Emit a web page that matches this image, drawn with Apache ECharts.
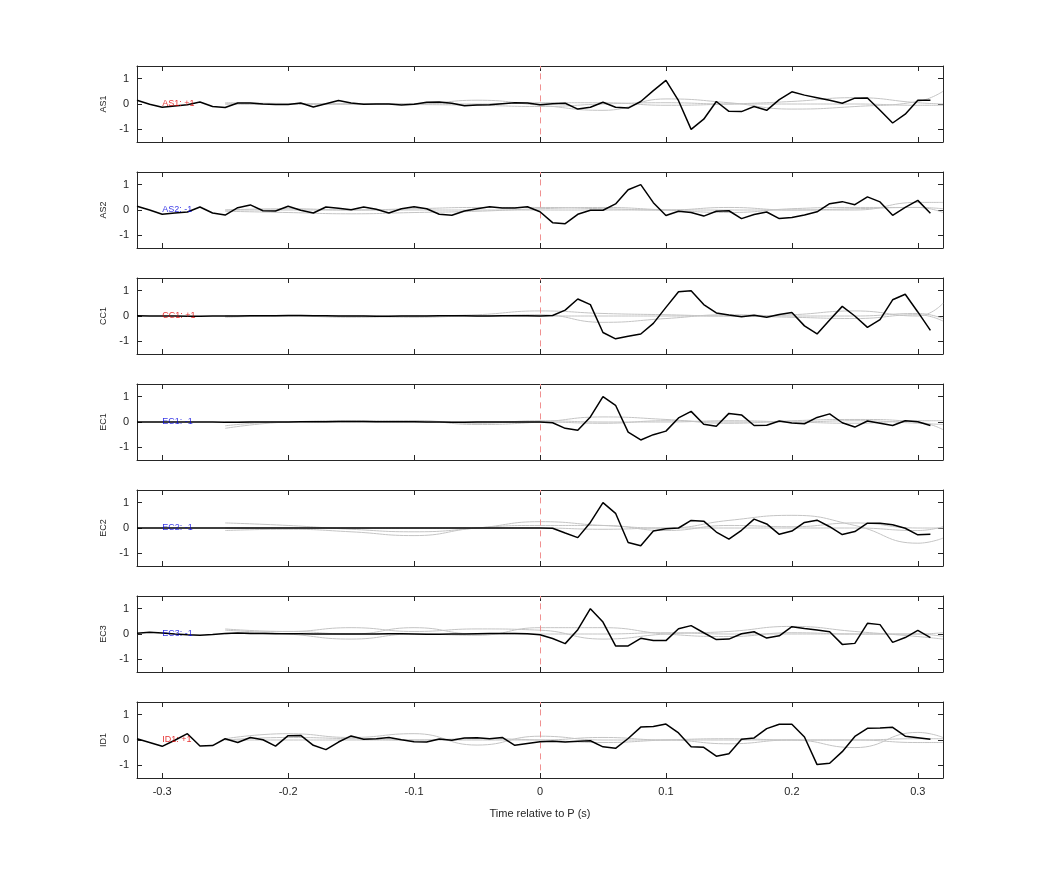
<!DOCTYPE html>
<html lang="en">
<head>
  <meta charset="UTF-8">
  <title>Stacked traces</title>
  <script src="https://cdn.jsdelivr.net/npm/echarts@6/dist/echarts.min.js"></script>
  <style>html,body{margin:0;background:#fff}</style>
</head>
<body>
  <div id="chart" style="width:1042px;height:875px"></div>
  <script>
    // station names, polarity label and colour
    const stations = ['AS1', 'AS2', 'CC1', 'EC1', 'EC2', 'EC3', 'ID1']
    const polarity = ['+1', '-1', '+1', '-1', '-1', '-1', '+1']
    const xTicks = [-0.3, -0.2, -0.1, 0, 0.1, 0.2, 0.3]
    const yTicks = [-1, 0, 1]

    // black trace times: -0.32 .. 0.31 every 0.01 s
    const times = []
    for (let i = -32; i <= 31; i++) times.push(i / 100)

    // black trace values, -0.32..0.00 then 0.01..0.31
    const AS1 = [0.15,-0.01,-0.13,-0.08,-0.03,0.08,-0.1,-0.14,0.04,0.04,0,-0.02,-0.02,0.04,-0.12,0.01,0.14,0.04,-0.01,0,0,-0.04,-0.01,0.07,0.08,0.03,-0.07,-0.04,-0.03,0.01,0.05,0.04,-0.03,
      0.01,0.03,-0.2,-0.13,0.07,-0.13,-0.16,0.1,0.53,0.93,0.13,-1.0,-0.6,0.1,-0.29,-0.3,-0.1,-0.25,0.17,0.48,0.35,0.25,0.15,0.03,0.23,0.24,-0.25,-0.75,-0.4,0.15,0.15]
    const AS2 = [0.15,0,-0.17,-0.12,-0.08,0.12,-0.12,-0.2,0.09,0.2,-0.03,-0.04,0.15,-0.01,-0.12,0.12,0.07,0.01,0.12,0.03,-0.12,0.05,0.13,0.05,-0.17,-0.21,-0.04,0.05,0.13,0.08,0.08,0.13,-0.07,
      -0.5,-0.54,-0.17,-0.01,-0.01,0.24,0.8,1.0,0.29,-0.22,-0.05,-0.1,-0.24,-0.05,-0.03,-0.34,-0.18,-0.08,-0.34,-0.3,-0.2,-0.07,0.25,0.33,0.21,0.52,0.32,-0.21,0.1,0.38,-0.13]
    const CC1 = [0.01,0,0,0,-0.01,-0.01,0,0,0,0.01,0.01,0.01,0.02,0.02,0.01,0.01,0,0,0,-0.01,-0.01,0,0,0,0.01,0.01,0.01,0,0,0.01,0.01,0.01,0,
      0.02,0.23,0.67,0.45,-0.65,-0.9,-0.8,-0.71,-0.29,0.34,0.96,1.0,0.45,0.12,0.04,-0.03,0.03,-0.05,0.06,0.14,-0.39,-0.71,-0.16,0.38,0,-0.45,-0.14,0.64,0.86,0.16,-0.57]
    const EC1 = [0,0,0,0,0,0,0,-0.01,-0.01,0,0,0,0,0.01,0.01,0.01,0.02,0.02,0.02,0.01,0.01,0.01,0.01,0,0,-0.01,-0.01,0,0,0,0,0,0,
      -0.03,-0.25,-0.33,0.2,1.0,0.66,-0.4,-0.71,-0.5,-0.36,0.16,0.42,-0.09,-0.17,0.34,0.28,-0.14,-0.13,0.04,-0.04,-0.07,0.18,0.32,-0.03,-0.2,0.04,-0.05,-0.14,0.05,0.01,-0.14]
    const EC2 = [0,0,0,0,0,0,0,0,0,0,0,0,0,0,0,0,0,0,0,0,0,0,0,0,0,0,0,0,0,0,0,0,0,
      -0.01,-0.2,-0.38,0.22,1.0,0.58,-0.57,-0.7,-0.12,-0.03,0,0.3,0.27,-0.16,-0.44,-0.09,0.35,0.16,-0.25,-0.12,0.22,0.31,0.05,-0.26,-0.14,0.19,0.19,0.13,-0.01,-0.27,-0.25]
    const EC3 = [0.03,0.07,0.04,0,-0.03,-0.05,-0.02,0.02,0.04,0.02,0.02,0.01,0.01,0.01,0,0,0,0,0,0,0.01,0.01,0,-0.01,-0.01,0,0,0.01,0.02,0.02,0.02,0.01,-0.03,
      -0.18,-0.38,0.17,1.0,0.47,-0.47,-0.47,-0.17,-0.26,-0.26,0.21,0.33,0.05,-0.22,-0.2,0.01,0.09,-0.16,-0.07,0.29,0.22,0.16,0.09,-0.41,-0.37,0.42,0.37,-0.33,-0.14,0.14,-0.14]
    const ID1 = [0.05,-0.1,-0.25,-0.01,0.25,-0.24,-0.22,0.05,-0.1,0.1,0.01,-0.24,0.17,0.18,-0.21,-0.38,-0.08,0.16,0.03,0.05,0.1,0.01,-0.07,-0.08,0.04,-0.01,0.08,0.09,0.05,0.1,-0.21,-0.14,-0.07,
      -0.05,-0.08,-0.05,-0.03,-0.27,-0.33,0.06,0.51,0.53,0.63,0.28,-0.27,-0.29,-0.64,-0.54,0.03,0.08,0.45,0.62,0.62,0.12,-0.97,-0.92,-0.46,0.14,0.46,0.47,0.5,0.15,0.09,0.03]
    const blackTraces = [AS1, AS2, CC1, EC1, EC2, EC3, ID1]

    // grey traces, sampled coarsely
    const greyTimes = [-0.25,-0.2,-0.15,-0.1,-0.05,0,0.05,0.1,0.15,0.2,0.25,0.3,0.32]
    const greyTraces = [
      [[0,0.02,0,0,0.15,-0.05,-0.25,0.2,0.05,-0.2,-0.1,0.1,0.5],
       [0.05,0.02,0,0.02,0,0.05,0.05,-0.05,0,0.1,0.25,0.05,0],
       [0,-0.02,0,-0.02,-0.05,-0.1,0,0.05,0,0,0,-0.05,-0.05]],
      [[0,0.05,0,0.05,0.1,0.1,0.05,0,0.1,0,0,0.3,0.3],
       [-0.05,-0.1,-0.15,-0.1,-0.05,0.05,0.1,0,-0.1,0.05,0.1,0.1,-0.1],
       [0,0,0,0,0,0,0,0,0,0,0.05,0.1,0.05]],
      [[-0.05,0,-0.05,0,0.05,0.2,0.1,0.05,0,0.05,0.2,0,0.5],
       [0,0,0,0,0,0.05,-0.25,-0.1,0.05,0,0,0.1,-0.1],
       [0,0,0,-0.05,0,0,0,0,0,-0.05,-0.1,0.05,-0.2]],
      [[-0.25,0,0.05,0.05,-0.1,0,0.2,0.1,-0.05,0.05,0.1,0,-0.3],
       [-0.15,0,0,0.05,-0.05,0.05,0,0,0.05,0,-0.05,0.05,0.05],
       [0,0,0,0,0,0,-0.05,0.05,0,0,0.05,-0.05,-0.1]],
      [[0.2,0.1,-0.05,-0.15,0,0.25,0.1,0,0.3,0.5,0.1,-0.6,-0.4],
       [-0.1,-0.05,-0.15,-0.3,0,0.1,0.1,-0.1,0.1,0.05,0.2,0,0],
       [0,0,0,0,0,0,-0.05,0,0,0,0,-0.1,0.05]],
      [[0.2,0.1,0.25,0.1,0.2,0.15,-0.2,0,0.1,0.3,0.1,-0.1,-0.2],
       [0.15,0,-0.2,0,-0.05,0.25,0.25,0,-0.1,0.05,0,0,-0.1],
       [0,0.1,0,0.25,0,0,0,0.05,0,0,0,0,0.05]],
      [[0.05,0.25,0.1,0.25,-0.2,0.15,0,0,-0.15,0,-0.3,0.3,0.1],
       [0,0,0,0,0.05,0,-0.1,0,0.05,0,0,-0.1,-0.1],
       [0,0.1,0.05,0,0,0,0.1,0,0,0,0,0.05,0.05]]
    ]

    const font = 'Liberation Sans'
    const n = stations.length
    const grid = [], xAxis = [], yAxis = [], series = []
    const lineAx = { show: true, onZero: false, lineStyle: { color: '#262626', width: 1 } }
    const tick = (vals) => ({ show: true, inside: true, length: 5, customValues: vals, lineStyle: { color: '#262626' } })

    stations.forEach((name, i) => {
      const last = i === n - 1
      grid.push({ left: 137, right: 99, top: 66 + 106 * i, height: 76 })
      xAxis.push({
        type: 'value', gridIndex: i, min: -0.32, max: 0.32, position: 'bottom',
        axisLine: lineAx, axisTick: tick(xTicks), splitLine: { show: false },
        axisLabel: { show: last, customValues: xTicks, color: '#262626', fontFamily: font, fontSize: 11, formatter: v => String(v) },
        name: last ? 'Time relative to P (s)' : '', nameLocation: 'middle', nameGap: 30,
        nameTextStyle: { color: '#262626', fontFamily: font, fontSize: 11 }
      })
      xAxis.push({
        type: 'value', gridIndex: i, min: -0.32, max: 0.32, position: 'top',
        axisLine: lineAx, axisTick: tick(xTicks), axisLabel: { show: false }, splitLine: { show: false }
      })
      yAxis.push({
        type: 'value', gridIndex: i, min: -1.5, max: 1.5, position: 'left',
        axisLine: lineAx, axisTick: tick(yTicks), splitLine: { show: false },
        axisLabel: { customValues: yTicks, color: '#262626', fontFamily: font, fontSize: 11 },
        name, nameLocation: 'middle', nameGap: 28, nameRotate: 90,
        nameTextStyle: { color: '#262626', fontFamily: font, fontSize: 9 }
      })
      yAxis.push({
        type: 'value', gridIndex: i, min: -1.5, max: 1.5, position: 'right',
        axisLine: lineAx, axisTick: tick(yTicks), axisLabel: { show: false }, splitLine: { show: false }
      })
      greyTraces[i].forEach(g => {
        series.push({
          type: 'line', xAxisIndex: 2 * i, yAxisIndex: 2 * i, smooth: 0.5, symbol: 'none', silent: true,
          lineStyle: { color: '#c4c4c4', width: 1 },
          data: greyTimes.map((t, k) => [t, g[k]])
        })
      })
      series.push({
        type: 'line', xAxisIndex: 2 * i, yAxisIndex: 2 * i, symbol: 'none', silent: true,
        lineStyle: { color: '#000', width: 1.5 }, z: 5,
        data: times.map((t, k) => [t, blackTraces[i][k]]),
        markLine: {
          silent: true, symbol: 'none', label: { show: false },
          lineStyle: { color: '#f09090', type: [6, 5], width: 1 },
          data: [[{ coord: [0, -1.2] }, { coord: [0, 1.5] }]]
        }
      })
      series.push({
        type: 'scatter', xAxisIndex: 2 * i, yAxisIndex: 2 * i, symbolSize: 0, silent: true, z: 6,
        data: [[-0.3, 0]],
        label: {
          show: true, position: 'right', distance: 0,
          formatter: name + ': ' + polarity[i],
          color: polarity[i] === '+1' ? '#e00000' : '#0000e0', fontFamily: font, fontSize: 9
        }
      })
    })

    const myChart = echarts.init(document.getElementById('chart'))
    myChart.setOption({ animation: false, grid, xAxis, yAxis, series })
  </script>
</body>
</html>
